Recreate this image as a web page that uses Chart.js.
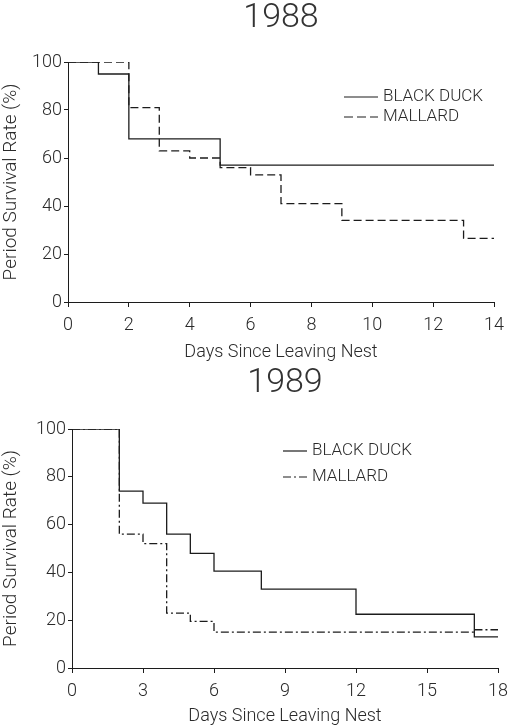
<!DOCTYPE html>
<html lang="en">
<head>
<meta charset="UTF-8">
<title>Period Survival Rate</title>
<script src="https://cdn.jsdelivr.net/npm/chart.js"></script>
<style>
  body { margin: 0; background: #fff; }
  #p1 { position: relative; width: 510px; height: 363px; }
  #p2 { position: relative; width: 510px; height: 364px; }
</style>
</head>
<body>
<div id="p1"><canvas id="chart1988"></canvas></div>
<div id="p2"><canvas id="chart1989"></canvas></div>

<script>
// 1988 - survival steps (value holds from day[i] to day[i+1])
const days1988Black = [0, 1, 2, 5, 14];
const black1988 = [100, 95, 68, 57, 57];
const days1988Mallard = [0, 2, 3, 4, 5, 6, 7, 9, 13, 14];
const mallard1988 = [100, 81, 63, 60, 56, 53, 41, 34, 26.5, 26.5];
const ticks1988 = [0, 2, 4, 6, 8, 10, 12, 14];

// 1989
const days1989Black = [0, 2, 3, 4, 5, 6, 8, 12, 17, 18];
const black1989 = [100, 74, 69, 56, 48, 40.5, 33, 22.5, 13, 13];
const days1989Mallard = [0, 2, 3, 4, 5, 6, 17, 18];
const mallard1989 = [100, 56, 52, 23, 19.5, 15, 16, 16];
const ticks1989 = [0, 3, 6, 9, 12, 15, 18];

const yTicks = [0, 20, 40, 60, 80, 100];
const seriesNames = ['BLACK DUCK', 'MALLARD'];

const ink = '#1c1c1c';
const txt = '#2a2a2a';
const fontFam = 'Roboto, "DejaVu Sans", sans-serif';

function pts(xs, ys) {
  return xs.map((x, i) => ({ x: x, y: ys[i] }));
}

// legend drawn inside the plot, like the original figure
const duckLegend = {
  id: 'duckLegend',
  afterDraw(chart, args, opts) {
    const ctx = chart.ctx;
    ctx.save();
    ctx.strokeStyle = ink;
    ctx.fillStyle = txt;
    ctx.lineWidth = 1.2;
    ctx.font = '300 17px ' + fontFam;
    ctx.textBaseline = 'middle';
    opts.items.forEach(function (it, i) {
      ctx.setLineDash(it.dash);
      ctx.beginPath();
      ctx.moveTo(opts.x, opts.y + i * opts.gap);
      ctx.lineTo(opts.x + opts.len, opts.y + i * opts.gap);
      ctx.stroke();
      ctx.setLineDash([]);
      ctx.fillText(it.text, opts.x + opts.len + 5, opts.y + i * opts.gap);
    });
    ctx.restore();
  }
};

function makeChart(id, year, bx, by, mx, my, xTicks, xMax, mallardDash, layout) {
  const xt = xTicks;
  return new Chart(document.getElementById(id), {
    type: 'line',
    data: {
      datasets: [{
        label: seriesNames[0],
        data: pts(bx, by),
        stepped: 'before',
        borderColor: ink,
        borderWidth: 1.3,
        pointRadius: 0,
        fill: false
      }, {
        label: seriesNames[1],
        data: pts(mx, my),
        stepped: 'before',
        borderColor: ink,
        borderWidth: 1.3,
        borderDash: mallardDash,
        pointRadius: 0,
        fill: false
      }]
    },
    options: {
      responsive: true,
      maintainAspectRatio: false,
      animation: false,
      layout: { padding: { left: 0, right: layout.right, top: 0, bottom: 0 } },
      plugins: {
        legend: { display: false },
        tooltip: { enabled: false },
        title: {
          display: true,
          text: year,
          fullSize: false,
          color: '#333',
          font: { family: fontFam, size: 34, weight: '300', lineHeight: 1 },
          padding: { top: layout.titleTop, bottom: layout.titleBottom }
        },
        duckLegend: layout.legend
      },
      scales: {
        x: {
          type: 'linear',
          min: 0,
          max: xMax,
          afterBuildTicks: function (scale) {
            scale.ticks = xt.map(v => ({ value: v }));
          },
          afterFit: function (scale) {
            scale.height = layout.xHeight;
            scale.paddingLeft = 0;
            scale.paddingRight = 0;
          },
          grid: { drawOnChartArea: false, drawTicks: true, tickLength: 5, color: ink },
          border: { display: true, color: ink, width: 1 },
          ticks: { color: txt, padding: 8, maxRotation: 0, font: { family: fontFam, size: 18, weight: '300' } },
          title: {
            display: true,
            text: 'Days Since Leaving Nest',
            color: txt,
            font: { family: fontFam, size: 18, weight: '300' },
            padding: { top: 0, bottom: 0 }
          }
        },
        y: {
          min: 0,
          max: 100,
          afterBuildTicks: function (scale) {
            scale.ticks = yTicks.map(v => ({ value: v }));
          },
          afterFit: function (scale) { scale.width = layout.yWidth; },
          grid: { drawOnChartArea: false, drawTicks: true, tickLength: 4, color: ink },
          border: { display: true, color: ink, width: 1 },
          ticks: { color: txt, padding: 2, font: { family: fontFam, size: 18, weight: '300' } },
          title: {
            display: true,
            text: 'Period Survival Rate (%)',
            color: txt,
            font: { family: fontFam, size: 19, weight: '300' },
            padding: { top: 0, bottom: 2 }
          }
        }
      }
    },
    plugins: [duckLegend]
  });
}

makeChart('chart1988', '1988', days1988Black, black1988, days1988Mallard, mallard1988,
  ticks1988, 14, [8, 4], {
    right: 16, titleTop: 1, titleBottom: 27, xHeight: 61, yWidth: 68,
    legend: { x: 344, y: 97, gap: 20, len: 34,
      items: [{ text: seriesNames[0], dash: [] }, { text: seriesNames[1], dash: [9, 4] }] }
  });

makeChart('chart1989', '1989', days1989Black, black1989, days1989Mallard, mallard1989,
  ticks1989, 18, [8, 3, 2, 3], {
    right: 12, titleTop: 3, titleBottom: 29, xHeight: 59, yWidth: 72,
    legend: { x: 283, y: 88, gap: 26, len: 24,
      items: [{ text: seriesNames[0], dash: [] }, { text: seriesNames[1], dash: [8, 3, 2, 3] }] }
  });
</script>
</body>
</html>
